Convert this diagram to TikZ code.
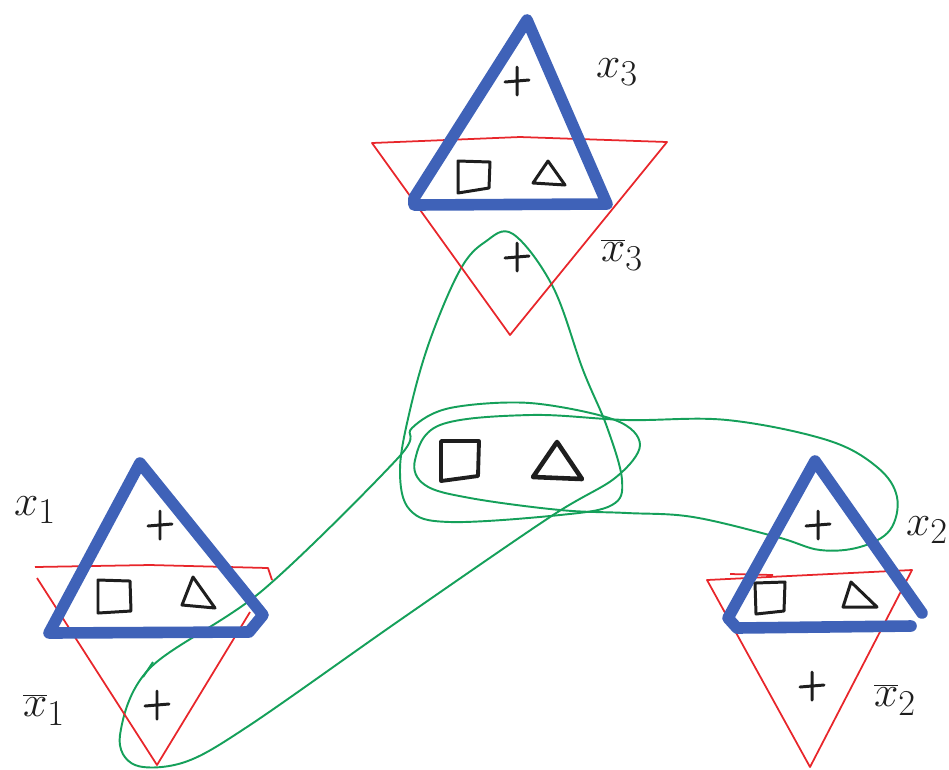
\documentclass[tikz,border=0pt]{standalone}
\usepackage{tikz}
\usetikzlibrary{positioning}
\definecolor{cBlue}{HTML}{3F62B8}
\definecolor{cRed}{HTML}{E8262B}
\definecolor{cGreen}{HTML}{15A05A}
\definecolor{cInk}{HTML}{1E1E1E}
\tikzset{
  posedge/.style={line width=6.6pt, draw=cBlue, line join=round, line cap=round},
  negedge/.style={line width=1pt, draw=cRed, line join=round},
  lasso/.style={line width=1.1pt, draw=cGreen},
  ink/.style={line width=1.7pt, draw=cInk, line join=round, line cap=round},
  lit/.style={font=\fontsize{28}{32}\selectfont, text=cInk, inner sep=0pt},
  plusmark/.pic={\draw[ink] (0,-14) -- (0,14) (-12,1) -- (12,-1);},
}

\begin{document}
\begin{tikzpicture}[x=0.02cm, y=-0.02cm]
  \useasboundingbox (0,0) rectangle (949,769);

  % ---- green lassos (drawn first, below the gadgets)
  \draw[lasso] plot[smooth cycle, tension=0.6] coordinates {(513,234) (553,287) (583,370) (607,427) (622,480) (612,505) (560,515) (450,522) (410,510) (400,470) (410,410) (430,340) (460,270) (485,242)};
  \draw[lasso] plot[smooth cycle, tension=0.55] coordinates {(135,765) (185,762) (250,725) (400,620) (550,517) (615,478) (640,445) (615,420) (530,403) (450,408) (412,428) (398,458) (263,590) (150,668) (120,735)};
  \draw[lasso] (153,662) -- (143,677);
  \draw[lasso] plot[smooth cycle, tension=0.6] coordinates {(415,460) (440,425) (530,415) (627,420) (727,420) (827,440) (877,467) (897,497) (890,530) (860,547) (820,550) (777,537) (693,517) (627,513) (560,510) (470,498) (425,485)};

  % ---- gadget x3 (top)
  \draw[negedge] (372,143) -- (520,137) -- (667,142) -- (510,335) -- cycle;
  \draw[posedge] (527,20) -- (414,198) -- (414,205) -- (607,204) -- cycle;
  \pic at (517,81) {plusmark};
  \pic at (517,257) {plusmark};
  \draw[ink] (458,161) -- (490,162) -- (489,188) -- (458,193) -- cycle;
  \draw[ink] (533,183) -- (548,161) -- (565,185) -- cycle;
  \node[lit] (lx3) at (617,72) {$x_3$};
  \node[lit] (lnx3) at (622,255) {$\overline{x}_3$};

  % ---- gadget x1 (left)
  \draw[negedge] (272,580) -- (268,568) -- (150,565) -- (35,567);
  \draw[negedge] (37,578) -- (157,765) -- (250,612);
  \draw[posedge] (49,633) -- (140,463) -- (263,615) -- (249,632) -- cycle;
  \pic at (160,525) {plusmark};
  \pic at (157,705) {plusmark};
  \draw[ink] (98,580) -- (130,581) -- (131,611) -- (98,613) -- cycle;
  \draw[ink] (182,605) -- (193,577) -- (215,608) -- cycle;
  \node[lit] (lx1) at (35,510) {$x_1$};
  \node[lit] (lnx1) at (44,710) {$\overline{x}_1$};

  % ---- gadget x2 (right)
  \draw[negedge] (707,580) -- (912,570) -- (810,767) -- cycle;
  \draw[negedge] (730,574) -- (773,575);
  \draw[posedge] (922,613) -- (815,461) -- (728,618) -- (737,628) -- (911,626);
  \pic at (818,525) {plusmark};
  \pic at (812,686) {plusmark};
  \draw[ink] (755,583) -- (785,582) -- (784,611) -- (756,614) -- cycle;
  \draw[ink] (843,607) -- (851,582) -- (877,607) -- cycle;
  \node[lit] (lx2) at (927,530) {$x_2$};
  \node[lit] (lnx2) at (895,700) {$\overline{x}_2$};

  % ---- clause (centre)
  \draw[ink, line width=2.2pt] (441,441) -- (479,441) -- (478,476) -- (441,481) -- cycle;
  \draw[ink, line width=2.6pt] (533,477) -- (557,442) -- (582,479) -- cycle;
\end{tikzpicture}
\end{document}
